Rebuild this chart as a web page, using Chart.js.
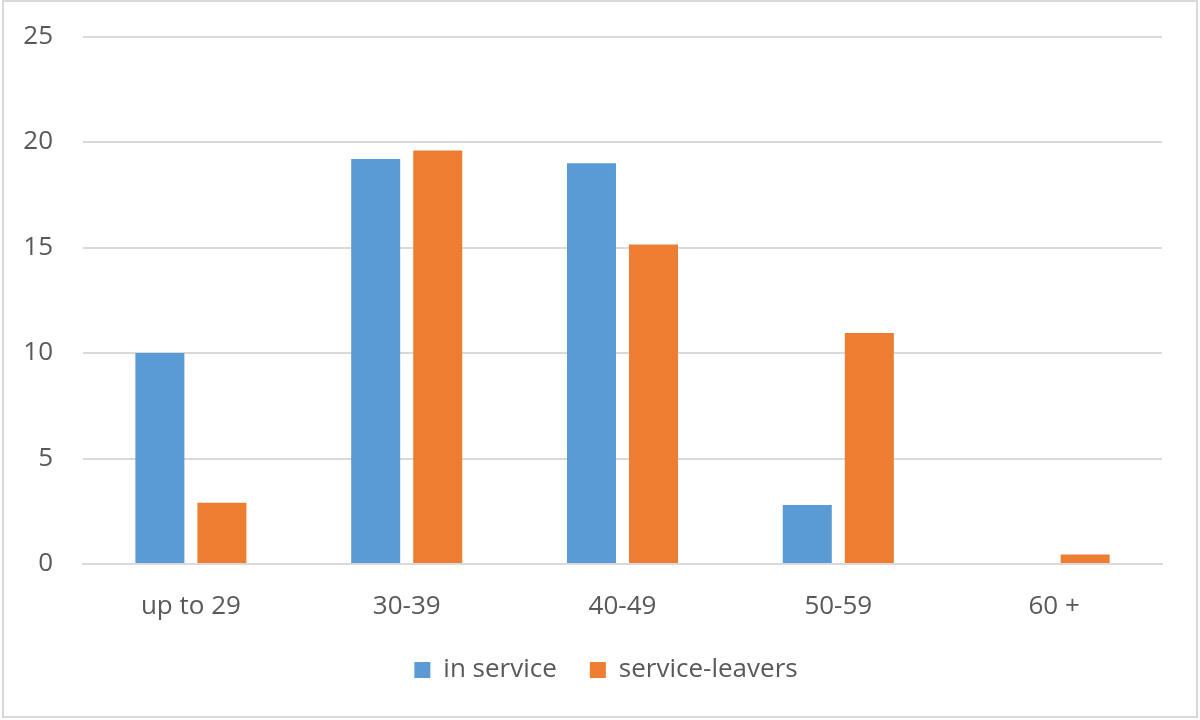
<!DOCTYPE html>
<html><head><meta charset="utf-8">
<script src="https://cdn.jsdelivr.net/npm/chart.js@4/dist/chart.umd.min.js"></script>
<style>html,body{margin:0;padding:0;background:#fff;}#wrap{width:1200px;height:720px;position:relative;}</style>
</head><body><div id="wrap"><canvas id="c" width="1200" height="720"></canvas></div>
<script>
const categories = ["up to 29", "30-39", "40-49", "50-59", "60 +"];
const inService = [10.0, 19.2, 19.0, 2.8, 0];
const serviceLeavers = [2.9, 19.6, 15.15, 10.95, 0.45];
const yTicks = [0, 5, 10, 15, 20, 25];

const FONT = "'Open Sans', sans-serif";
const TXT = "#595959";
const GRID = "#d9d9d9";

const borderPlugin = {
  id: 'frame',
  afterLayout(chart) {
    if (chart.legend) { chart.legend.left += 25; chart.legend.right += 25; }
  },
  afterDraw(chart) {
    const ctx = chart.ctx;
    ctx.save();
    ctx.strokeStyle = GRID;
    ctx.lineWidth = 2;
    ctx.strokeRect(3, 1, 1194, 716);
    ctx.restore();
  }
};

new Chart(document.getElementById('c'), {
  type: 'bar',
  data: {
    labels: categories,
    datasets: [
      { label: 'in service', data: inService, backgroundColor: '#5b9bd5', categoryPercentage: 0.575, barPercentage: 0.79 },
      { label: 'service-leavers', data: serviceLeavers, backgroundColor: '#ed7d31', categoryPercentage: 0.575, barPercentage: 0.79 }
    ]
  },
  options: {
    responsive: false,
    animation: false,
    devicePixelRatio: 1,
    layout: { padding: { top: 10, right: 38, left: 0, bottom: 27 } },
    plugins: {
      tooltip: { enabled: false },
      legend: {
        position: 'bottom',
        labels: {
          boxWidth: 16, boxHeight: 16, padding: 33,
          color: TXT, font: { family: FONT, size: 26 }
        }
      }
    },
    scales: {
      x: {
        grid: { display: false, drawTicks: false },
        border: { display: true, color: GRID, width: 2 },
        ticks: { color: TXT, font: { family: FONT, size: 26 }, padding: 27, maxRotation: 0 },
        afterFit(s) { s.height = 60; }
      },
      y: {
        min: 0, max: 25,
        afterBuildTicks(s) { s.ticks = yTicks.map(v => ({ value: v })); },
        grid: { color: GRID, lineWidth: 2, drawTicks: true, tickLength: 9, tickColor: 'rgba(0,0,0,0)' },
        border: { display: false },
        ticks: { color: TXT, font: { family: FONT, size: 26 }, padding: 21 },
        afterFit(s) { s.width = 83; }
      }
    }
  },
  plugins: [borderPlugin]
});
</script></body></html>
